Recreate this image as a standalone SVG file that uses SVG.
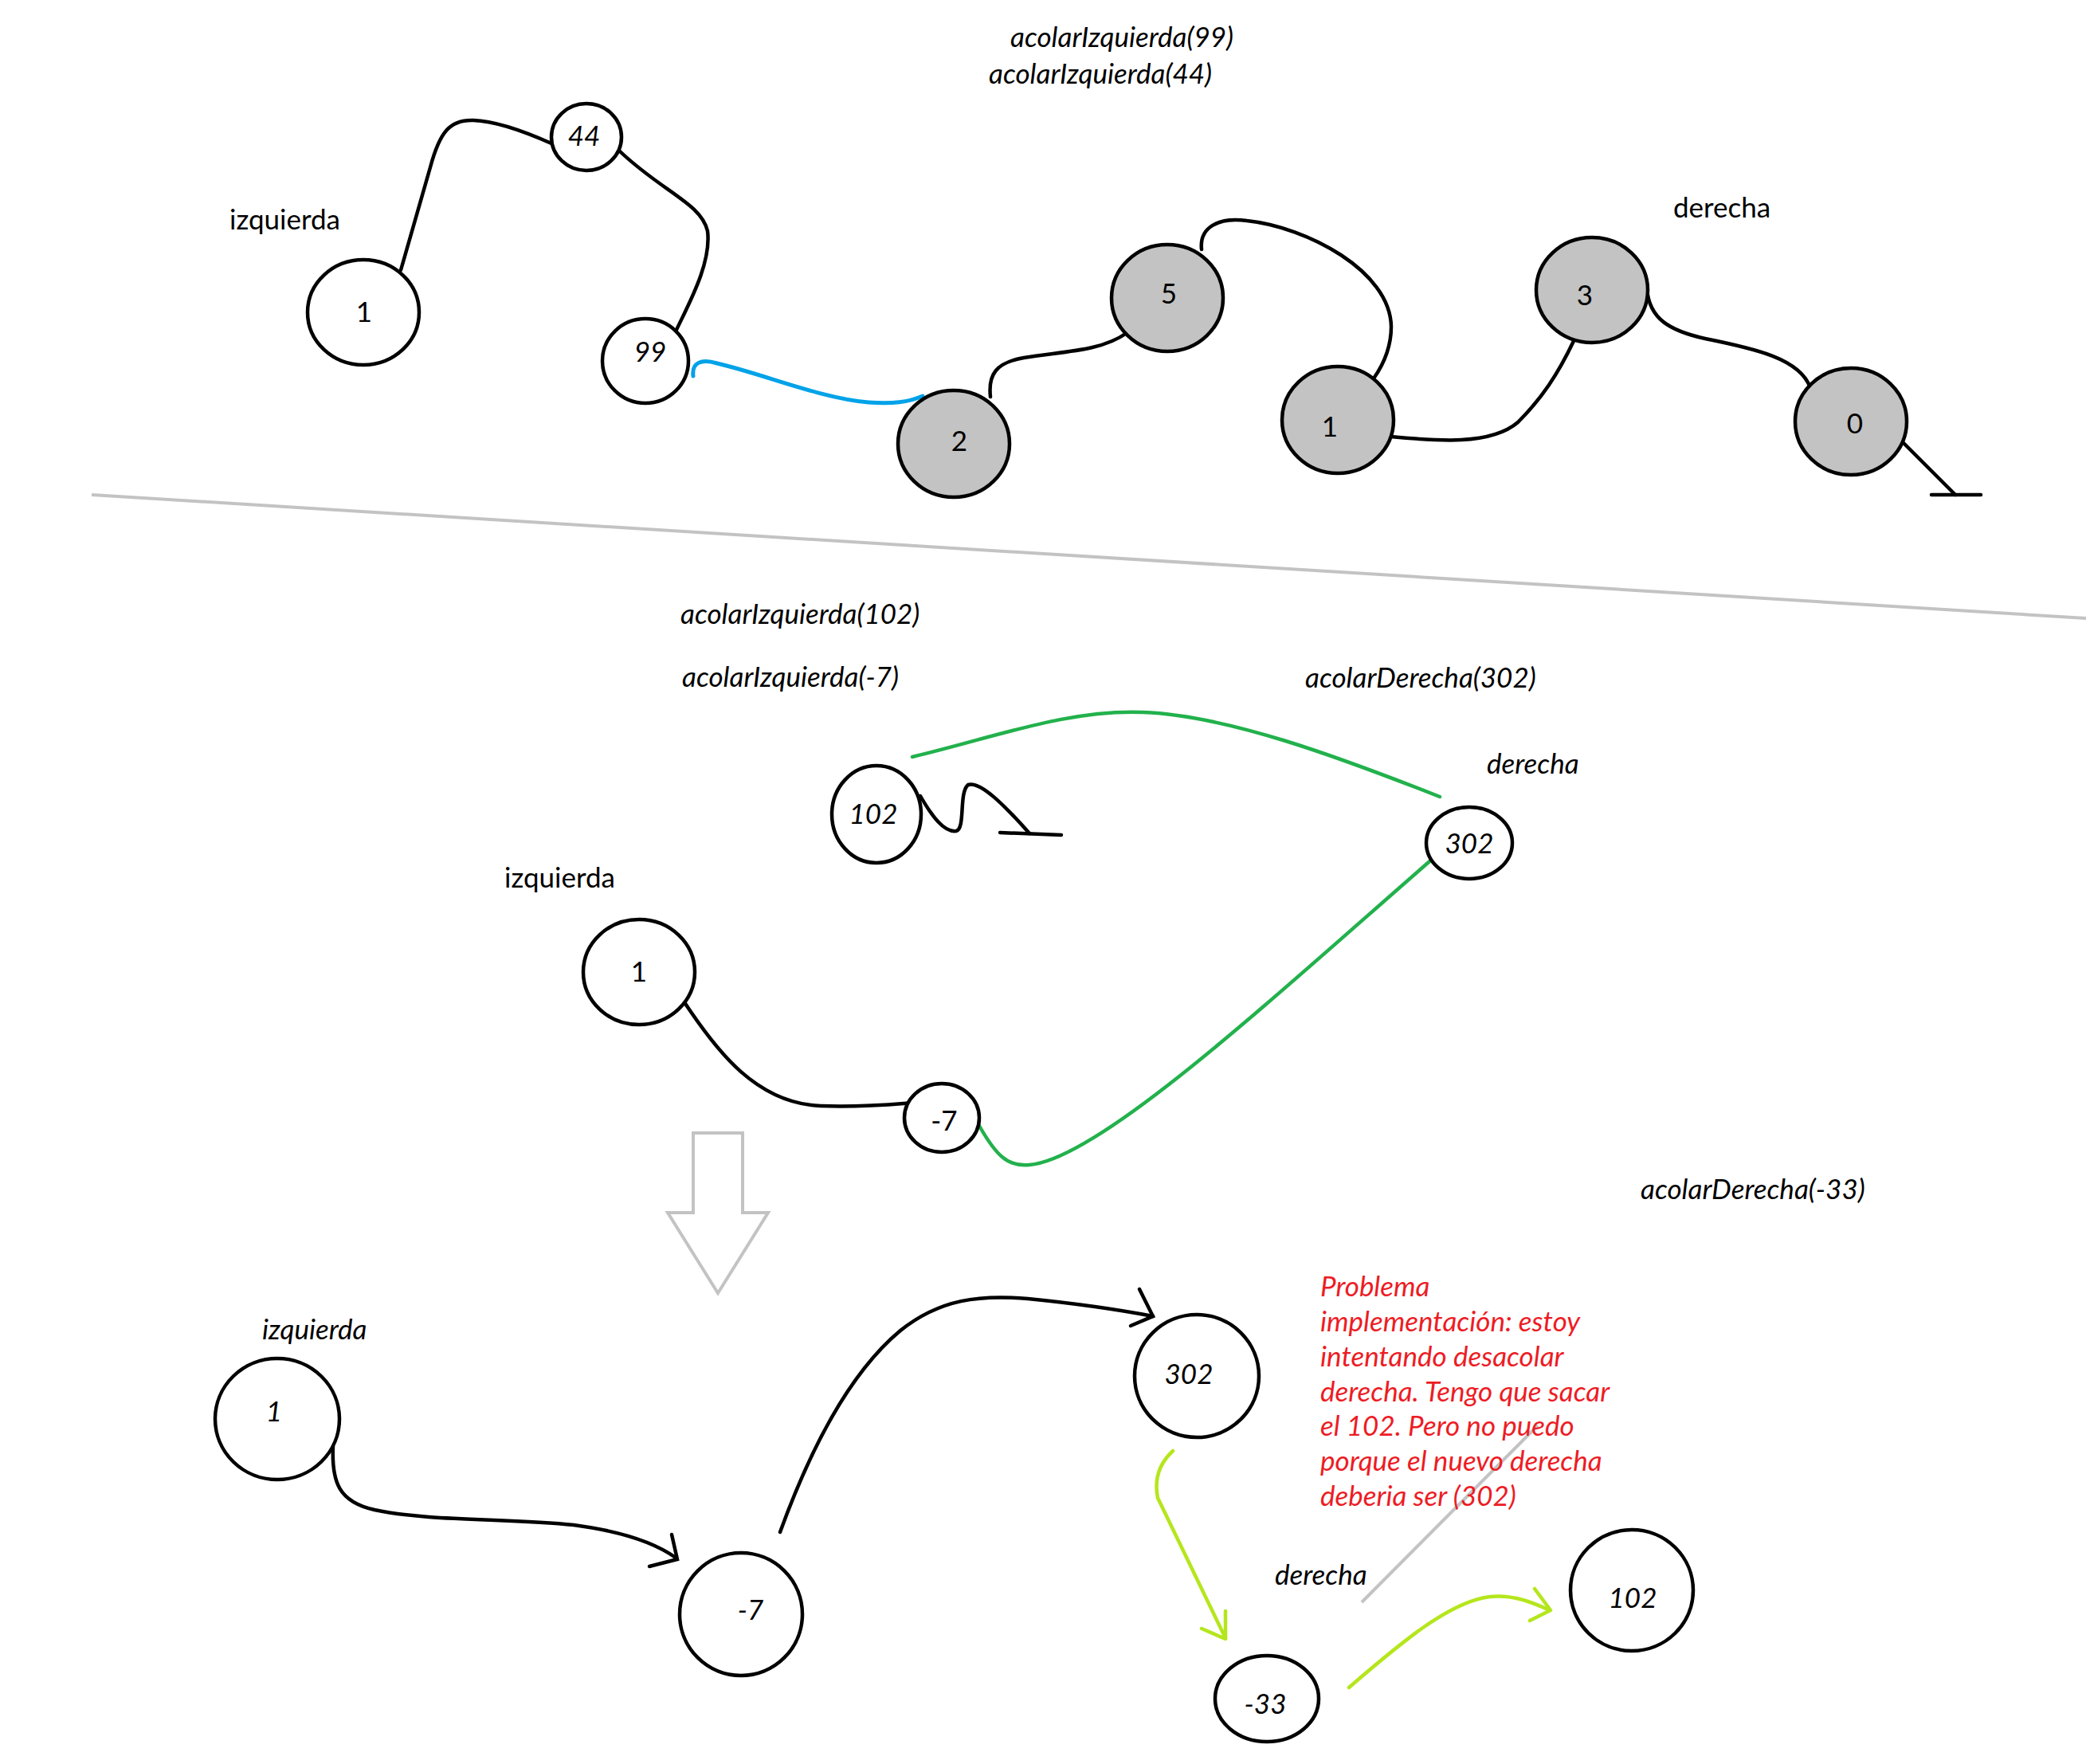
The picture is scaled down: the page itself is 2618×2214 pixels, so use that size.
<svg xmlns="http://www.w3.org/2000/svg" width="2618" height="2214" viewBox="0 0 2618 2214">
<style>
text{font-family:Lato,"Liberation Sans",sans-serif;font-size:35px;fill:#000}
.it{font-style:italic}
.lbl{text-anchor:middle}
.red{fill:#ed1c24;font-style:italic}
.nd{fill:#fff;stroke:#000;stroke-width:4.5}
.gy{fill:#c3c3c3;stroke:#000;stroke-width:4.5}
.c{fill:none;stroke:#000;stroke-width:4.5;stroke-linecap:round}
.blue{fill:none;stroke:#00a2e8;stroke-width:5;stroke-linecap:round}
.grn{fill:none;stroke:#22b14c;stroke-width:4.5;stroke-linecap:round}
.lg{fill:none;stroke:#b5e61d;stroke-width:4.5;stroke-linecap:round;stroke-linejoin:round}
.gl{fill:none;stroke:#c3c3c3;stroke-width:4}
</style>
<rect width="2618" height="2214" fill="#fff"/>

<!-- separators / decorations -->
<line class="gl" x1="115" y1="621" x2="2618" y2="776"/>
<polygon class="gl" points="870,1422 932,1422 932,1522 964,1522 901,1623 838,1522 870,1522"/>
<line class="gl" x1="1709" y1="2011" x2="1930" y2="1789"/>

<!-- labels -->
<g id="labels">
<text class="it" x="1268" y="59">acolarIzquierda(99)</text>
<text class="it" x="1241" y="105">acolarIzquierda(44)</text>
<text x="288" y="288">izquierda</text>
<text x="2100" y="273">derecha</text>
<text class="it" x="854" y="783">acolarIzquierda(102)</text>
<text class="it" x="856" y="862">acolarIzquierda(-7)</text>
<text class="it" x="1638" y="863">acolarDerecha(302)</text>
<text class="it" x="1866" y="971">derecha</text>
<text x="633" y="1114">izquierda</text>
<text class="it" x="2059" y="1505">acolarDerecha(-33)</text>
<text class="it" x="329" y="1681">izquierda</text>
<text class="it" x="1600" y="1989">derecha</text>
<text class="red" x="1657" y="1627">Problema</text>
<text class="red" x="1657" y="1671">implementación: estoy</text>
<text class="red" x="1657" y="1715">intentando desacolar</text>
<text class="red" x="1657" y="1759">derecha. Tengo que sacar</text>
<text class="red" x="1657" y="1802">el 102. Pero no puedo</text>
<text class="red" x="1657" y="1846">porque el nuevo derecha</text>
<text class="red" x="1657" y="1890">deberia ser (302)</text>
</g>

<!-- connectors -->
<g id="connectors">
<path class="c" d="M503,339 L540,210 C552,165 565,150 594,151 C625,152 665,168 692,180"/>
<path class="c" d="M777,189 C830,240 880,255 888,290 C893,330 865,380 848,416"/>
<path class="blue" d="M870,472 C868,455 880,450 900,456 C960,470 1030,500 1090,505 C1120,507 1140,505 1158,497"/>
<path class="c" d="M1243,498 C1240,470 1250,455 1285,449 C1330,441 1380,442 1414,418"/>
<path class="c" d="M1508,313 C1505,285 1530,272 1565,277 C1640,285 1745,340 1746,410 C1746,435 1738,455 1724,475"/>
<path class="c" d="M1745,548 C1800,553 1870,560 1905,530 C1935,500 1955,470 1975,428"/>
<path class="c" d="M2067,363 C2070,400 2095,415 2140,425 C2200,437 2260,450 2272,487"/>
<path class="c" d="M2389,556 L2454,621"/>
<path class="c" stroke-width="5" d="M2424,621 L2486,621"/>

<path class="grn" d="M1145,950 C1250,925 1340,890 1435,894 C1540,898 1680,950 1807,1000"/>
<path class="grn" d="M1229,1413 C1250,1450 1265,1465 1292,1462 C1380,1455 1600,1250 1800,1076"/>
<path class="c" d="M859,1258 C900,1320 950,1385 1030,1388 C1080,1390 1120,1386 1145,1384"/>
<path class="c" d="M1155,999 C1170,1025 1185,1045 1200,1043 C1212,1040 1203,995 1215,985 C1230,980 1260,1010 1292,1046"/>
<path class="c" stroke-width="5" d="M1255,1045 L1332,1048"/>

<path class="c" d="M418,1815 C416,1860 425,1885 470,1895 C540,1910 640,1905 720,1914 C780,1922 820,1935 848,1955"/>
<path class="c" d="M843,1926 L850,1957 L815,1966"/>
<path class="c" d="M979,1923 C1020,1810 1070,1720 1130,1670 C1180,1630 1230,1625 1290,1630 C1350,1636 1400,1643 1447,1652"/>
<path class="c" d="M1430,1618 L1447,1652 L1419,1664"/>
<path class="lg" d="M1472,1821 Q1446,1845 1453,1880 L1538,2056"/>
<path class="lg" d="M1538,2022 L1538,2057 L1508,2044"/>
<path class="lg" d="M1693,2118 C1760,2060 1820,2010 1870,2004 C1900,2001 1925,2012 1945,2021"/>
<path class="lg" d="M1926,1994 L1946,2021 L1920,2034"/>
</g>

<!-- top nodes -->
<g id="t1"><ellipse class="nd" cx="456" cy="392" rx="70" ry="66"/><text class="lbl" x="457" y="404">1</text></g>
<g id="t44"><ellipse class="nd" cx="736" cy="172" rx="44" ry="42"/><text class="lbl it" x="733" y="183">44</text></g>
<g id="t99"><ellipse class="nd" cx="810" cy="453" rx="54" ry="53"/><text class="lbl it" x="816" y="454">99</text></g>
<g id="t2"><ellipse class="gy" cx="1197" cy="557" rx="70" ry="67"/><text class="lbl" x="1204" y="566">2</text></g>
<g id="t5"><ellipse class="gy" cx="1465" cy="374" rx="70" ry="67"/><text class="lbl" x="1467" y="381">5</text></g>
<g id="t1b"><ellipse class="gy" cx="1679" cy="527" rx="70" ry="67"/><text class="lbl" x="1669" y="548">1</text></g>
<g id="t3"><ellipse class="gy" cx="1998" cy="364" rx="70" ry="66"/><text class="lbl" x="1989" y="383">3</text></g>
<g id="t0"><ellipse class="gy" cx="2323" cy="529" rx="70" ry="67"/><text class="lbl" x="2328" y="544">0</text></g>

<!-- middle nodes -->
<g id="m102"><ellipse class="nd" cx="1100" cy="1022" rx="56" ry="61"/><text class="lbl it" x="1096" y="1034">102</text></g>
<g id="m302"><ellipse class="nd" cx="1844" cy="1058" rx="54" ry="45"/><text class="lbl it" x="1844" y="1071">302</text></g>
<g id="m1"><ellipse class="nd" cx="802" cy="1220" rx="70" ry="66"/><text class="lbl" x="802" y="1232">1</text></g>
<g id="m7"><ellipse class="nd" cx="1182" cy="1403" rx="47" ry="43"/><text class="lbl" x="1185" y="1419">-7</text></g>

<!-- bottom nodes -->
<g id="b1"><ellipse class="nd" cx="348" cy="1781" rx="78" ry="76"/><text class="lbl it" x="344" y="1784">1</text></g>
<g id="b7"><ellipse class="nd" cx="930" cy="2026" rx="77" ry="77"/><text class="lbl it" x="942" y="2033">-7</text></g>
<g id="b302"><ellipse class="nd" cx="1502" cy="1727" rx="78" ry="77"/><text class="lbl it" x="1492" y="1737">302</text></g>
<g id="b33"><ellipse class="nd" cx="1590" cy="2132" rx="65" ry="54"/><text class="lbl it" x="1588" y="2151">-33</text></g>
<g id="b102"><ellipse class="nd" cx="2048" cy="1996" rx="77" ry="76"/><text class="lbl it" x="2049" y="2018">102</text></g>
</svg>
